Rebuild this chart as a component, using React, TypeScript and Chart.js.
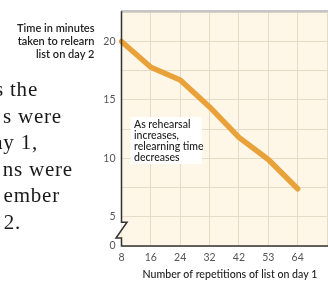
import React, { useEffect, useRef } from 'react';
import { Chart, registerables } from 'chart.js';

Chart.register(...registerables);

// ---- data ----
const repetitions = ['8', '16', '24', '32', '42', '53', '64'];
const relearnMinutes = [20, 17.8, 16.7, 14.4, 11.8, 9.9, 7.4];
const yTickValues = [5, 10, 15, 20];
const yAxisTitle = ['Time in minutes', 'taken to relearn', 'list on day 2'];
const xAxisTitle = 'Number of repetitions of list on day 1';
const annotationLines = ['As rehearsal', 'increases,', 'relearning time', 'decreases'];
const paragraphLines = ['s the', 's were', 'ay 1,', 'ns were', 'ember', '2.'];
const paragraphEnds = [38, 62, 38, 73, 60, 21];

const CREAM = '#FEF6E6';
const GRID = '#E6DBC6';
const AXIS = '#333333';
const SANS = 'Lato, "Open Sans", sans-serif';

const bgPlugin = {
  id: 'bg',
  beforeDraw(chart: any) {
    const { ctx, chartArea } = chart;
    ctx.save();
    ctx.fillStyle = CREAM;
    ctx.fillRect(chartArea.left, chartArea.top, chartArea.right - chartArea.left, chartArea.bottom - chartArea.top);
    ctx.restore();
  },
};

const overlayPlugin = {
  id: 'overlay',
  afterDraw(chart: any) {
    const { ctx, chartArea } = chart;
    const L = chartArea.left;
    const B = chartArea.bottom;
    const yScale = chart.scales.y;
    const y5 = yScale.getPixelForValue(5);
    ctx.save();
    // top gray border
    ctx.strokeStyle = '#C6C6C6';
    ctx.lineWidth = 2.5;
    ctx.beginPath();
    ctx.moveTo(L - 0.5, chartArea.top - 1);
    ctx.lineTo(chartArea.right + 5, chartArea.top - 1);
    ctx.stroke();

    // axis break shapes
    const zTop = y5 + 5.5;
    const zBot = B - 8;
    const zMid = (zTop + zBot) / 2;
    ctx.fillStyle = '#ffffff';
    ctx.beginPath();
    ctx.moveTo(L, zTop);
    ctx.lineTo(L + 5.5, zTop);
    ctx.lineTo(L, zMid);
    ctx.closePath();
    ctx.fill();
    ctx.fillStyle = CREAM;
    ctx.beginPath();
    ctx.moveTo(L, zMid);
    ctx.lineTo(L - 5.5, zBot);
    ctx.lineTo(L, zBot);
    ctx.closePath();
    ctx.fill();

    // axes
    ctx.strokeStyle = AXIS;
    ctx.lineWidth = 1.5;
    ctx.lineJoin = 'miter';
    ctx.beginPath();
    ctx.moveTo(L, chartArea.top - 1);
    ctx.lineTo(L, zTop);
    ctx.lineTo(L + 5.5, zTop);
    ctx.lineTo(L - 5.5, zBot);
    ctx.lineTo(L, zBot);
    ctx.lineTo(L, B);
    ctx.lineTo(chartArea.right + 5, B);
    ctx.stroke();

    // annotation box
    ctx.fillStyle = '#ffffff';
    ctx.fillRect(130.5, 117, 71.5, 47);
    ctx.fillStyle = '#222222';
    ctx.font = `500 10.5px ${SANS}`;
    ctx.textAlign = 'left';
    ctx.textBaseline = 'alphabetic';
    annotationLines.forEach((t, i) => ctx.fillText(t, 134, 127.5 + 11 * i));

    // y axis title
    ctx.font = `600 11px ${SANS}`;
    ctx.textAlign = 'right';
    yAxisTitle.forEach((t, i) => ctx.fillText(t, 94.5, 32 + 13 * i));

    // x axis title
    ctx.font = `500 10.6px ${SANS}`;
    ctx.textAlign = 'center';
    ctx.fillText(xAxisTitle, 230, 277.5);
    ctx.restore();
  },
};

export default function App() {
  const ref = useRef<HTMLCanvasElement | null>(null);
  useEffect(() => {
    if (!ref.current) return;
    const chart = new Chart(ref.current, {
      type: 'line',
      data: {
        labels: [...repetitions, ''],
        datasets: [
          {
            data: relearnMinutes,
            borderColor: '#E9A23A',
            borderWidth: 5.5,
            pointRadius: 0,
            tension: 0,
            fill: false,
            borderJoinStyle: 'round',
            borderCapStyle: 'round',
          },
        ],
      },
      options: {
        animation: false,
        responsive: false,
        maintainAspectRatio: false,
        layout: { padding: { top: 5.5, right: 0, bottom: 0, left: 0 } },
        plugins: { legend: { display: false }, tooltip: { enabled: false } },
        scales: {
          x: {
            type: 'category',
            offset: false,
            grid: { color: GRID, lineWidth: 1, drawTicks: false },
            border: { display: false },
            ticks: {
              color: '#555555',
              font: { family: SANS, size: 10.5 },
              padding: 5,
              maxRotation: 0,
              autoSkip: false,
            },
            afterFit: (s: any) => {
              s.height = 36;
            },
          },
          y: {
            min: 2.5,
            max: 22.5,
            grid: { color: GRID, lineWidth: 1, drawTicks: false },
            border: { display: false },
            ticks: {
              stepSize: 2.5,
              color: '#555555',
              font: { family: SANS, size: 10.5 },
              padding: 6,
              callback: (v: any) => (v === 2.5 ? '0' : yTickValues.includes(v) ? String(v) : ''),
            },
            afterFit: (s: any) => {
              s.width = 121.5;
            },
          },
        },
      } as any,
      plugins: [bgPlugin, overlayPlugin],
    });
    return () => chart.destroy();
  }, []);

  return (
    <div
      style={{
        position: 'fixed',
        left: 0,
        top: 0,
        width: 328,
        height: 282,
        overflow: 'hidden',
        background: '#ffffff',
      }}
    >
      <canvas ref={ref} width={332} height={282} style={{ position: 'absolute', left: 0, top: 0 }} />
      {paragraphLines.map((t, i) => (
        <div
          key={i}
          style={{
            position: 'absolute',
            right: 328 - paragraphEnds[i],
            top: 78 + 26.5 * i,
            whiteSpace: 'nowrap',
            fontFamily: '"Liberation Serif", serif',
            fontSize: 21,
            letterSpacing: '0.8px',
            lineHeight: '22px',
            color: '#1a1a1a',
          }}
        >
          {t}
        </div>
      ))}
    </div>
  );
}
